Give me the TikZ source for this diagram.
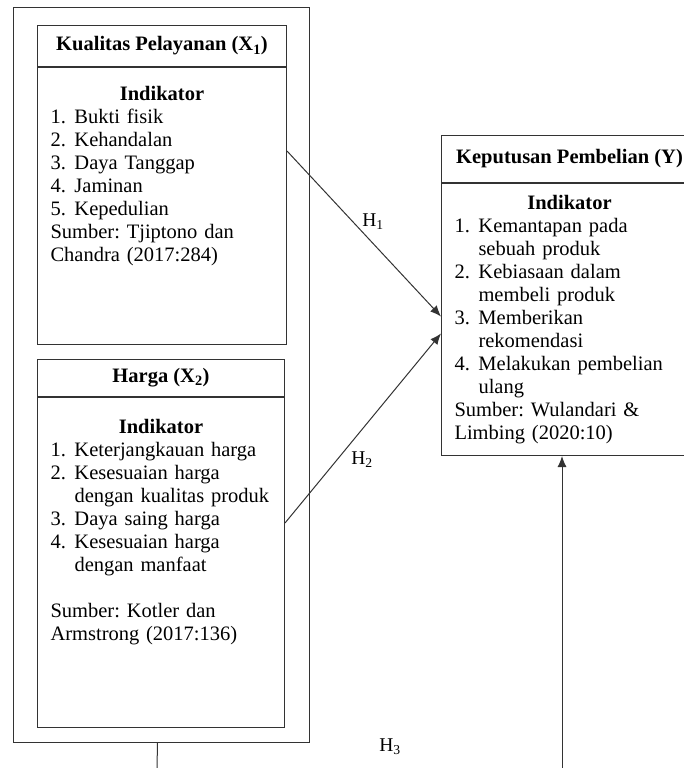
\documentclass[tikz,border=0pt]{standalone}
\usepackage{fontspec}
\setmainfont{Liberation Serif}
\usetikzlibrary{positioning,arrows.meta}
\frenchspacing
\newcommand{\numlbl}[1]{\makebox[24pt][l]{#1}}
\newcommand{\contind}{\hspace*{24pt}}
\newcommand{\indtitle}{\makebox[\linewidth]{\bfseries Indikator}}
\begin{document}
\begin{tikzpicture}[x=1pt, y=-1pt, >={Latex[length=11pt,width=9pt]},
  every node/.style={font=\fontsize{20.5}{23}\selectfont},
  ln/.style={draw=black!80, line width=1pt},
  hdr/.style={ln, font=\fontsize{20.5}{23}\selectfont\bfseries, inner sep=0pt, anchor=north west},
  bodybox/.style={ln, inner sep=0pt},
  txt/.style={inner sep=0pt, align=left, anchor=base},
  lbl/.style={inner sep=0pt, font=\fontsize{19.5}{23}\selectfont}]
% page frame
\useasboundingbox (0,0) rectangle (684,768);
\clip (0,0) rectangle (684,768);
% frame round both independent variables
\node[ln, inner sep=0pt, minimum width=296pt, minimum height=735pt, anchor=north west] (outer) at (13,7) {};
% X1
\node[hdr, minimum width=249pt, minimum height=41pt] (x1h) at (37,25) {Kualitas Pelayanan (X\textsubscript{1})};
\node[bodybox, minimum width=249pt, minimum height=277pt, below=0pt of x1h] (x1b) {};
\node[txt, text width=223pt] (x1t) at ([yshift=-33pt]x1b.north) {\indtitle\\
  \numlbl{1.}Bukti fisik\\
  \numlbl{2.}Kehandalan\\
  \numlbl{3.}Daya Tanggap\\
  \numlbl{4.}Jaminan\\
  \numlbl{5.}Kepedulian\\
  Sumber: Tjiptono dan\\
  Chandra (2017:284)};
% X2
\node[hdr, minimum width=247pt, minimum height=37pt] (x2h) at (37,359) {Harga (X\textsubscript{2})};
\node[bodybox, minimum width=247pt, minimum height=330pt, below=0pt of x2h] (x2b) {};
\node[txt, text width=221pt] (x2t) at ([yshift=-36pt]x2b.north) {\indtitle\\
  \numlbl{1.}Keterjangkauan harga\\
  \numlbl{2.}Kesesuaian harga\\
  \contind dengan kualitas produk\\
  \numlbl{3.}Daya saing harga\\
  \numlbl{4.}Kesesuaian harga\\
  \contind dengan manfaat\\[23pt]
  Sumber: Kotler dan\\
  Armstrong (2017:136)};
% Y
\node[hdr, minimum width=256pt, minimum height=47pt] (yh) at (441,135) {Keputusan Pembelian (Y)};
\node[bodybox, minimum width=256pt, minimum height=272pt, below=0pt of yh] (yb) {};
\node[txt, text width=230pt] (yt) at ([yshift=-26pt]yb.north) {\indtitle\\
  \numlbl{1.}Kemantapan pada\\
  \contind sebuah produk\\
  \numlbl{2.}Kebiasaan dalam\\
  \contind membeli produk\\
  \numlbl{3.}Memberikan\\
  \contind rekomendasi\\
  \numlbl{4.}Melakukan pembelian\\
  \contind ulang\\
  Sumber: Wulandari \&\\
  Limbing (2020:10)};
% hypotheses
\draw[ln, ->] ([yshift=-84pt]x1b.north east) -- ([yshift=3pt]yb.west);
\draw[ln, ->] ([yshift=-126pt]x2b.north east) -- ([yshift=-14pt]yb.west);
\coordinate (h3a) at (157,768);
\coordinate (h3b) at (562,768);
\draw[ln] ([xshift=-4pt]outer.south) -- (h3a);
\draw[ln, ->] (h3b) -- (h3b |- yb.south);
\node[lbl] (h1) at (373,222) {H\textsubscript{1}};
\node[lbl] (h2) at (362,460) {H\textsubscript{2}};
\node[lbl] (h3) at (390,747) {H\textsubscript{3}};
\end{tikzpicture}
\end{document}
